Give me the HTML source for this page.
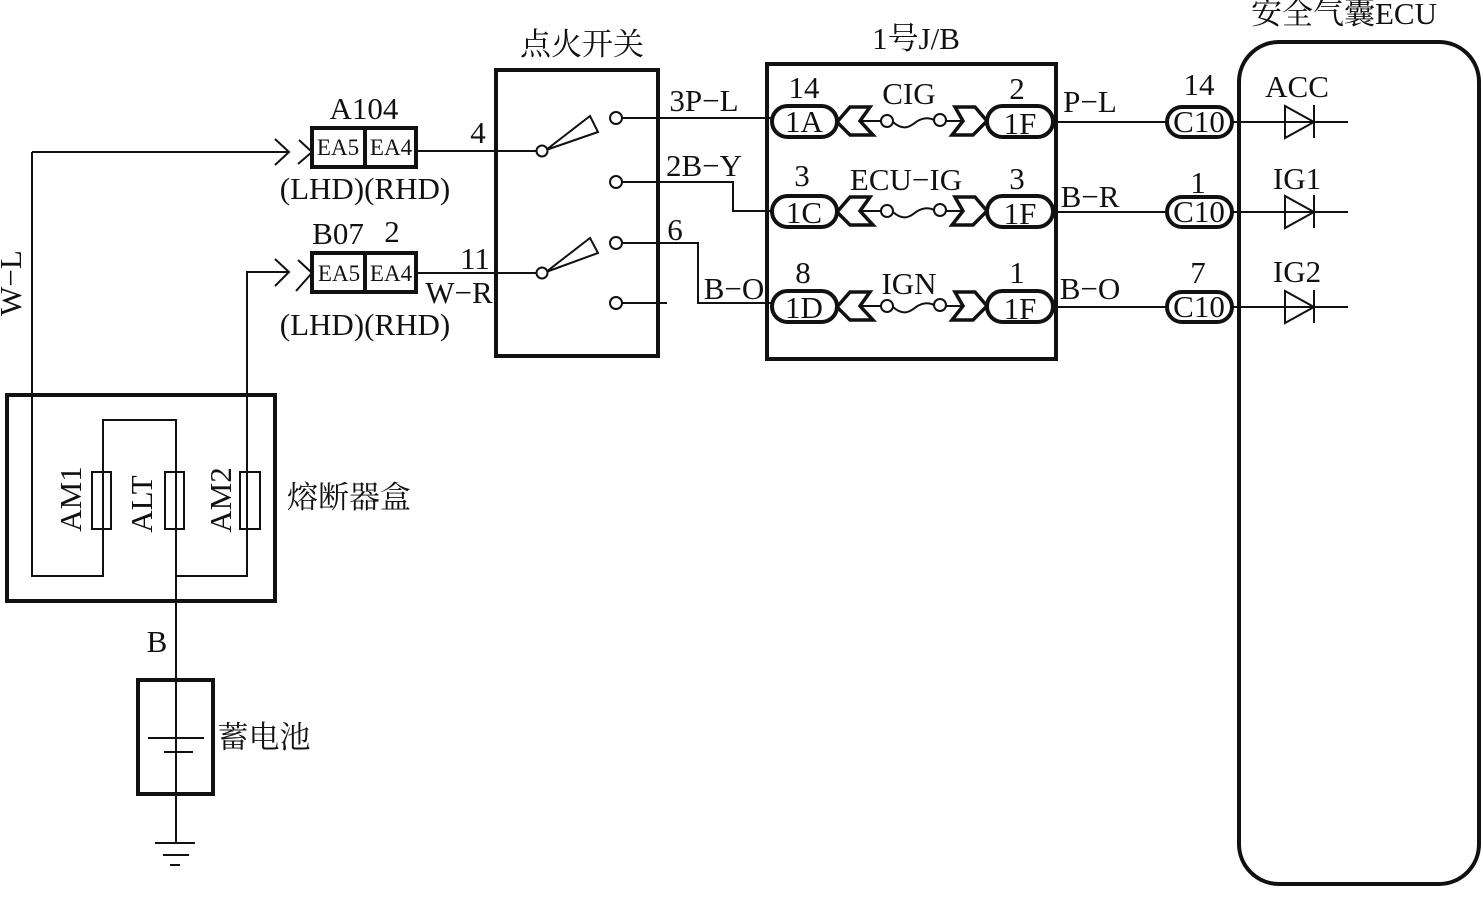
<!DOCTYPE html>
<html><head><meta charset="utf-8"><style>
html,body{margin:0;padding:0;background:#fff;width:1483px;height:912px;overflow:hidden}
svg{display:block}
text{font-family:"Liberation Serif","Noto Serif CJK SC",serif;font-size:31px;fill:#111;text-anchor:middle}
.e{font-size:23px}
.w{fill:none;stroke:#111;stroke-width:2}
.b{fill:none;stroke:#111;stroke-width:4}
.p{fill:#fff;stroke:#111;stroke-width:4}
.h{fill:#fff;stroke:#111;stroke-width:3.5}
.o{fill:#fff;stroke:#111;stroke-width:2}
</style></head><body>
<svg width="1483" height="912" viewBox="0 0 1483 912" xmlns="http://www.w3.org/2000/svg">
<!-- wires -->
<path class="w" d="M32 152H288M275 139L289 152L275 165M299 140L312 152L298 164"/>
<path class="w" d="M32 152V576H103V420H176V843"/>
<path class="w" d="M176 576H247V272H288M275 259L289 272L275 286M298 260L312 273L296 291"/>
<path class="w" d="M417 151H537M417 273H537"/>
<path class="w" d="M622 118H772M622 182H733V211H772M622 243H698V303H772M622 303H667"/>
<path class="w" d="M1053 122H1166M1053 212H1166M1053 307H1166"/>
<path class="w" d="M1233 122H1348M1233 212H1348M1233 307H1348"/>
<!-- boxes -->
<rect class="b" x="496" y="70" width="162" height="286"/>
<rect class="b" x="767" y="64" width="289" height="295"/>
<rect class="b" x="1239" y="42" width="240" height="842" rx="40"/>
<rect class="b" x="7" y="395" width="268" height="206"/>
<rect class="b" x="138" y="680" width="75" height="114"/>
<!-- EA connectors -->
<rect class="b" x="312" y="128" width="104" height="39"/><path class="b" d="M365 128V167"/>
<rect class="b" x="312" y="253" width="104" height="39"/><path class="b" d="M365 253V292"/>
<text class="e" x="338" y="155">EA5</text><text class="e" x="391" y="155">EA4</text>
<text class="e" x="339" y="281">EA5</text><text class="e" x="391" y="281">EA4</text>
<!-- switch -->
<path class="w" d="M546 150L590 116L598 132ZM546 272L590 238L598 253Z"/>
<circle class="o" cx="542" cy="151" r="5.5"/><circle class="o" cx="542" cy="273" r="5.5"/>
<circle class="o" cx="616" cy="118" r="6"/><circle class="o" cx="616" cy="182" r="6"/>
<circle class="o" cx="616" cy="243" r="6"/><circle class="o" cx="616" cy="303" r="6"/>
<!-- fuse rows -->
<g>
<path class="h" d="M837 122L850 107H870L860 121L873 135H850Z"/>
<path class="h" d="M955 107H975L987 121L973 135H952L963 121Z"/>
<path class="w" d="M860 121H881M946 121H963M893 122C903 131 910 127 916 122C922 118 928 117 934 120"/>
<circle class="o" cx="887" cy="121" r="6"/><circle class="o" cx="940" cy="120" r="6"/>
<rect class="p" x="772" y="106" width="65" height="31" rx="15.5"/>
<rect class="p" x="987" y="106" width="66" height="31" rx="15.5"/>
</g>
<g transform="translate(0,90)">
<path class="h" d="M837 122L850 107H870L860 121L873 135H850Z"/>
<path class="h" d="M955 107H975L987 121L973 135H952L963 121Z"/>
<path class="w" d="M860 121H881M946 121H963M893 122C903 131 910 127 916 122C922 118 928 117 934 120"/>
<circle class="o" cx="887" cy="121" r="6"/><circle class="o" cx="940" cy="120" r="6"/>
<rect class="p" x="772" y="106" width="65" height="31" rx="15.5"/>
<rect class="p" x="987" y="106" width="66" height="31" rx="15.5"/>
</g>
<g transform="translate(0,185)">
<path class="h" d="M837 122L850 107H870L860 121L873 135H850Z"/>
<path class="h" d="M955 107H975L987 121L973 135H952L963 121Z"/>
<path class="w" d="M860 121H881M946 121H963M893 122C903 131 910 127 916 122C922 118 928 117 934 120"/>
<circle class="o" cx="887" cy="121" r="6"/><circle class="o" cx="940" cy="120" r="6"/>
<rect class="p" x="772" y="106" width="65" height="31" rx="15.5"/>
<rect class="p" x="987" y="106" width="66" height="31" rx="15.5"/>
</g>
<text x="804" y="132">1A</text><text x="804" y="223">1C</text><text x="804" y="318">1D</text>
<text x="1020" y="134">1F</text><text x="1020" y="224">1F</text><text x="1020" y="319">1F</text>
<!-- C10 -->
<rect class="p" x="1167" y="107" width="65" height="30" rx="15"/>
<rect class="p" x="1167" y="197" width="65" height="30" rx="15"/>
<rect class="p" x="1167" y="292" width="65" height="30" rx="15"/>
<text x="1199" y="132">C10</text><text x="1199" y="222">C10</text><text x="1199" y="317">C10</text>
<!-- diodes -->
<path class="w" d="M1285 106V138L1314 122ZM1314 105V138"/>
<path class="w" d="M1285 196V228L1314 212ZM1314 195V228"/>
<path class="w" d="M1285 291V323L1314 307ZM1314 290V323"/>
<!-- fuses -->
<rect class="w" x="92" y="472" width="19" height="57"/>
<rect class="w" x="165" y="472" width="19" height="57"/>
<rect class="w" x="240" y="472" width="20" height="57"/>
<!-- battery / ground -->
<path class="w" d="M148 738H204M164 752H193"/>
<path class="w" d="M155 843H195M163 855H189M170 865H180"/>
<!-- labels -->
<text x="364" y="119">A104</text>
<text x="365" y="199">(LHD)(RHD)</text>
<text x="338" y="244">B07</text><text x="392" y="242">2</text>
<text x="365" y="335">(LHD)(RHD)</text>
<text x="478" y="143">4</text><text x="475" y="269">11</text><text x="459" y="303">W−R</text>
<text x="582" y="55">点火开关</text>
<text x="916" y="49">1号J/B</text>
<text x="1344" y="24">安全气囊ECU</text>
<text x="704" y="111">3P−L</text><text x="704" y="176">2B−Y</text><text x="675" y="240">6</text><text x="734" y="299">B−O</text>
<text x="804" y="98">14</text><text x="802" y="186">3</text><text x="803" y="283">8</text>
<text x="909" y="104">CIG</text><text x="906" y="190">ECU−IG</text><text x="909" y="294">IGN</text>
<text x="1017" y="99">2</text><text x="1017" y="189">3</text><text x="1017" y="283">1</text>
<text x="1090" y="112">P−L</text><text x="1090" y="207">B−R</text><text x="1090" y="299">B−O</text>
<text x="1199" y="95">14</text><text x="1198" y="193">1</text><text x="1198" y="283">7</text>
<text x="1297" y="97">ACC</text><text x="1297" y="189">IG1</text><text x="1297" y="282">IG2</text>
<text x="157" y="652">B</text>
<text x="349" y="508">熔断器盒</text>
<text x="264" y="748">蓄电池</text>
<text transform="translate(21,283) rotate(-90)">W−L</text>
<text transform="translate(81,499) rotate(-90)">AM1</text>
<text transform="translate(152,504) rotate(-90)">ALT</text>
<text transform="translate(231,500) rotate(-90)">AM2</text>
</svg>
</body></html>
